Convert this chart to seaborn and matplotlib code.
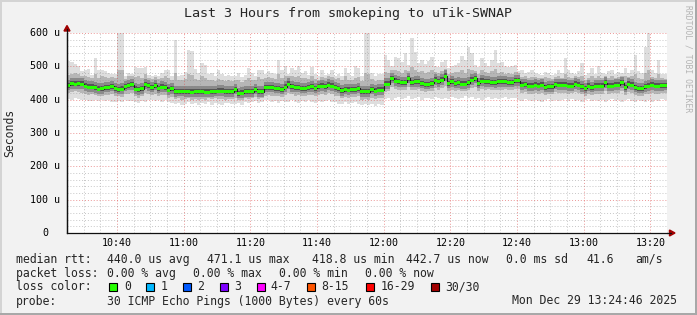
import numpy as np
import pandas as pd
import matplotlib
matplotlib.use("Agg")
import matplotlib.pyplot as plt
import seaborn as sns
from matplotlib.patches import Rectangle, Polygon
from matplotlib.lines import Line2D

# ---------------- data (microseconds, one value per minute from 10:25) ----------------
median_rtt = np.array([
    443, 448, 447, 448, 447, 441, 438, 438, 436, 432,
    433, 437, 437, 440, 434, 431, 432, 440, 443, 445,
    432, 430, 433, 446, 442, 437, 443, 434, 438, 437,
    429, 433, 424, 425, 425, 424, 424, 423, 424, 424,
    424, 423, 423, 424, 425, 426, 426, 424, 424, 424,
    431, 419, 420, 424, 424, 424, 431, 424, 424, 437,
    437, 437, 434, 434, 431, 438, 447, 439, 437, 437,
    434, 434, 437, 439, 434, 439, 441, 439, 444, 441,
    437, 434, 427, 431, 429, 431, 431, 434, 424, 424,
    424, 431, 426, 429, 429, 447, 447, 464, 456, 454,
    452, 452, 464, 452, 454, 454, 449, 446, 446, 449,
    459, 454, 459, 471, 449, 454, 449, 451, 447, 447,
    451, 459, 464, 449, 456, 454, 454, 452, 451, 454,
    454, 454, 452, 452, 457, 457, 444, 446, 441, 441,
    444, 441, 444, 437, 439, 439, 446, 444, 444, 444,
    441, 441, 447, 444, 439, 434, 441, 437, 441, 441,
    441, 451, 441, 441, 444, 444, 451, 437, 447, 444,
    437, 434, 434, 439, 441, 444, 441, 441, 442, 443])

ping_max = np.array([
    515, 512, 508, 500, 485, 490, 492, 475, 525, 488,
    490, 485, 480, 478, 478, 600, 600, 470, 480, 478,
    498, 494, 494, 499, 474, 470, 475, 470, 480, 490,
    488, 470, 580, 470, 475, 482, 550, 545, 492, 480,
    510, 505, 478, 480, 470, 488, 478, 470, 475, 470,
    472, 480, 468, 475, 495, 480, 470, 490, 488, 478,
    485, 480, 478, 520, 488, 500, 478, 495, 490, 500,
    480, 486, 475, 498, 478, 470, 490, 475, 478, 488,
    472, 478, 470, 494, 480, 470, 500, 496, 470, 600,
    600, 480, 470, 478, 476, 534, 520, 500, 529, 525,
    514, 540, 505, 584, 544, 510, 520, 508, 515, 528,
    502, 498, 512, 520, 495, 500, 504, 510, 530, 518,
    559, 540, 505, 498, 525, 510, 500, 520, 549, 510,
    512, 500, 498, 500, 505, 485, 488, 480, 482, 488,
    480, 478, 475, 482, 480, 475, 478, 488, 480, 524,
    490, 480, 478, 485, 510, 475, 480, 495, 478, 500,
    480, 478, 485, 490, 478, 482, 480, 495, 480, 490,
    534, 485, 480, 559, 599, 490, 480, 519, 478, 476])

ping_hi = np.array([
    475, 478, 480, 476, 472, 470, 468, 465, 478, 466,
    470, 468, 466, 468, 465, 490, 488, 462, 470, 472,
    468, 470, 466, 478, 465, 462, 468, 462, 466, 470,
    465, 460, 480, 458, 460, 462, 478, 474, 462, 458,
    470, 466, 458, 460, 455, 462, 458, 455, 458, 455,
    460, 458, 452, 458, 466, 458, 460, 468, 462, 466,
    468, 466, 462, 476, 466, 470, 472, 470, 468, 472,
    464, 466, 462, 472, 462, 460, 468, 464, 470, 468,
    462, 464, 458, 470, 460, 458, 466, 468, 455, 480,
    478, 462, 455, 460, 458, 482, 480, 490, 488, 485,
    480, 488, 485, 498, 490, 482, 486, 480, 482, 488,
    484, 480, 486, 492, 476, 480, 482, 484, 488, 480,
    492, 488, 486, 478, 488, 482, 480, 486, 492, 480,
    482, 478, 480, 478, 482, 480, 468, 470, 466, 468,
    468, 466, 464, 468, 466, 462, 468, 470, 466, 476,
    468, 464, 470, 468, 472, 460, 466, 470, 464, 470,
    466, 472, 466, 470, 464, 468, 472, 470, 468, 470,
    478, 464, 462, 480, 488, 468, 464, 476, 464, 462])

ping_lo = np.array([
    420, 424, 425, 422, 420, 418, 415, 416, 414, 410,
    412, 414, 415, 416, 410, 410, 409, 416, 418, 420,
    410, 406, 410, 420, 418, 414, 418, 410, 414, 415,
    405, 408, 402, 404, 400, 402, 404, 400, 403, 400,
    402, 400, 404, 402, 404, 403, 401, 400, 403, 402,
    406, 398, 400, 404, 402, 405, 408, 403, 404, 412,
    414, 412, 410, 410, 408, 414, 420, 416, 412, 413,
    410, 412, 414, 415, 410, 415, 418, 414, 420, 416,
    412, 410, 404, 408, 405, 407, 408, 410, 400, 402,
    400, 406, 402, 405, 404, 424, 426, 438, 432, 430,
    428, 430, 438, 428, 430, 432, 426, 424, 425, 426,
    434, 430, 434, 442, 426, 430, 426, 428, 425, 426,
    428, 434, 438, 426, 432, 430, 432, 428, 428, 430,
    430, 432, 428, 430, 432, 432, 420, 422, 418, 418,
    420, 418, 420, 414, 416, 416, 422, 420, 420, 421,
    418, 419, 424, 420, 416, 412, 418, 414, 418, 418,
    418, 426, 418, 419, 420, 421, 426, 414, 424, 420,
    414, 412, 412, 416, 418, 420, 418, 418, 419, 420])

ping_min = np.array([
    402, 400, 404, 401, 398, 400, 397, 396, 400, 395,
    398, 396, 399, 394, 392, 396, 393, 398, 395, 397,
    392, 390, 396, 394, 399, 400, 396, 398, 394, 399,
    393, 389, 386, 390, 384, 388, 392, 386, 389, 384,
    390, 388, 392, 385, 390, 387, 384, 389, 391, 388,
    386, 390, 385, 392, 389, 394, 396, 390, 394, 398,
    398, 393, 396, 390, 397, 394, 392, 398, 394, 391,
    396, 393, 398, 394, 390, 396, 392, 396, 398, 393,
    392, 388, 386, 392, 388, 390, 394, 387, 383, 388,
    384, 386, 380, 388, 385, 402, 406, 400, 404, 408,
    403, 406, 410, 402, 405, 408, 400, 404, 406, 402,
    409, 405, 401, 406, 403, 408, 404, 402, 406, 410,
    404, 408, 402, 406, 400, 404, 408, 403, 406, 401,
    405, 409, 403, 406, 404, 400, 396, 402, 398, 395,
    400, 397, 392, 398, 401, 396, 400, 395, 398, 402,
    397, 401, 396, 399, 394, 398, 402, 397, 400, 395,
    398, 394, 399, 402, 396, 400, 394, 398, 401, 396,
    393, 399, 396, 392, 398, 394, 400, 397, 402, 399])

x_tick_minutes = [15, 35, 55, 75, 95, 115, 135, 155, 175]
x_tick_labels = ["10:40", "11:00", "11:20", "11:40", "12:00", "12:20", "12:40", "13:00", "13:20"]
y_tick_values = [0, 100, 200, 300, 400, 500, 600]
y_tick_labels = ["0", "100 u", "200 u", "300 u", "400 u", "500 u", "600 u"]

title = "Last 3 Hours from smokeping to uTik-SWNAP"
rtt_stats = ["440.0 us avg", "471.1 us max", "418.8 us min", "442.7 us now", "0.0 ms sd", "41.6", "am/s"]
loss_stats = ["0.00 % avg", "0.00 % max", "0.00 % min", "0.00 % now"]
loss_labels = ["0", "1", "2", "3", "4-7", "8-15", "16-29", "30/30"]
loss_colors = ["#26ff00", "#00b8ff", "#0059ff", "#7e00ff", "#ff00ff", "#ff5500", "#ff0000", "#a10000"]
probe_text = "30 ICMP Echo Pings (1000 Bytes) every 60s"
stamp_text = "Mon Dec 29 13:24:46 2025"

# ---------------- drawing ----------------
sns.set_style("white")
plt.rcParams["font.family"] = ["DejaVu Sans Mono"]

W, H = 697, 315
fig = plt.figure(figsize=(W / 100, H / 100), dpi=100, facecolor="#f2f2f2")


def fx(px):
    return px / W


def fy(py):
    return 1 - py / H


ax = fig.add_axes([fx(67), fy(233), 600 / W, 200 / H])
ax.set_facecolor("white")

edges = np.arange(len(median_rtt) + 1)


def ext(a):
    return np.append(a, a[-1])


ax.fill_between(edges, ext(ping_min), ext(ping_max), step="post", color="#dedede", lw=0, zorder=1)
ax.fill_between(edges, ext(ping_lo), ext(ping_hi), step="post", color="#b6b6b6", lw=0, zorder=1.1)
ax.fill_between(edges, ext(median_rtt) - 15, ext(median_rtt) + 17, step="post", color="#8a8a8a", lw=0, zorder=1.2)
ax.fill_between(edges, ext(median_rtt) - 7, ext(median_rtt) + 8, step="post", color="#555555", lw=0, zorder=1.3)

df = pd.DataFrame({"minute": edges, "rtt": ext(median_rtt)})
sns.lineplot(data=df, x="minute", y="rtt", drawstyle="steps-post", color="#202020",
             lw=0.8, ax=ax, zorder=3)
ax.fill_between(edges, ext(median_rtt) - 4.5, ext(median_rtt) + 4.5, step="post",
                color=loss_colors[0], lw=0, zorder=4)

ax.set_xlim(0, 180)
ax.set_ylim(0, 600)
ax.set_xlabel("")
ax.set_ylabel("")

ax.set_xticks(x_tick_minutes)
ax.set_xticks(np.arange(0, 181, 5), minor=True)
ax.set_yticks(y_tick_values)
ax.set_yticks(np.arange(0, 601, 20), minor=True)
ax.set_axisbelow("line")
ax.grid(which="minor", color="#8f8f8f", alpha=0.5, linestyle=(0, (1, 2)), lw=0.7)
ax.grid(which="major", color="#de5050", alpha=0.6, linestyle=(0, (1, 2)), lw=0.7)
ax.tick_params(which="both", labelbottom=False, labelleft=False, length=0)
ax.tick_params(axis="y", which="major", length=3, width=0.8, color="#101010", direction="out")

for s in ["top", "right"]:
    ax.spines[s].set_visible(False)
for s in ["left", "bottom"]:
    ax.spines[s].set_color("#101010")
    ax.spines[s].set_linewidth(0.9)
    ax.spines[s].set_zorder(5)

axis_font = dict(family="DejaVu Sans Mono", size=7.2, color="black")
for v, lab in zip(y_tick_values, y_tick_labels):
    xr = 60 if lab != "0" else 48
    ax.text((xr - 67) / 600, v, lab, transform=ax.get_yaxis_transform(), ha="right",
            va="center", **axis_font)
for m, lab in zip(x_tick_minutes, x_tick_labels):
    ax.text(m, -0.05, lab, transform=ax.get_xaxis_transform(), ha="center",
            va="center", **axis_font)

# axis extensions and arrows
arrow_col = "#a00000"
fig.add_artist(Line2D([fx(67), fx(67)], [fy(233), fy(29)], color="#101010", lw=0.9))
fig.add_artist(Line2D([fx(667), fx(671)], [fy(233), fy(233)], color="#101010", lw=0.9))
fig.add_artist(Polygon([[fx(67), fy(25.5)], [fx(64), fy(31)], [fx(70), fy(31)]],
                       closed=True, color=arrow_col, transform=fig.transFigure))
fig.add_artist(Polygon([[fx(675), fy(233)], [fx(669.5), fy(230)], [fx(669.5), fy(236)]],
                       closed=True, color=arrow_col, transform=fig.transFigure))

# title, unit label, watermark
fig.text(fx(348.5), fy(13), title, ha="center", va="center", size=9.6, family="DejaVu Sans Mono")
fig.text(fx(10), fy(133), "Seconds", rotation=90, ha="center", va="center", size=8.3,
         family="DejaVu Sans Mono")
fig.text(fx(688), fy(5), "RRDTOOL / TOBI OETIKER", rotation=270, ha="center", va="top",
         size=5.8, color="#b4b4b4", family="DejaVu Sans Mono")

# legend
leg = dict(size=8.3, family="DejaVu Sans Mono", va="center", ha="left")
fig.text(fx(16), fy(259.5), "median rtt:", **leg)
for xp, s in zip([107, 207, 311.5, 406.5, 506.5, 586, 635], rtt_stats):
    fig.text(fx(xp), fy(259.5), s, **leg)
fig.text(fx(16), fy(273.5), "packet loss:", **leg)
for xp, s in zip([107, 193, 279, 365], loss_stats):
    fig.text(fx(xp), fy(273.5), s, **leg)
fig.text(fx(16), fy(287), "loss color:", **leg)
box_x = [108.5, 145.5, 182.5, 219.5, 256.5, 306.5, 365.5, 430.5]
lab_x = [124, 160.5, 197, 234, 270.5, 321.5, 380.5, 445.5]
for bx, lx, lab, col in zip(box_x, lab_x, loss_labels, loss_colors):
    fig.add_artist(Rectangle((fx(bx), fy(291)), 8 / W, 8 / H, facecolor=col, edgecolor="black",
                             lw=0.8, transform=fig.transFigure))
    fig.text(fx(lx), fy(287), lab, **leg)
fig.text(fx(16), fy(301), "probe:", **leg)
fig.text(fx(107), fy(301), probe_text, **leg)
fig.text(fx(512.5), fy(301), stamp_text, **leg)

# frame shading
fig.add_artist(Rectangle((0, fy(2)), 1, 2 / H, color="#d4d4d4", transform=fig.transFigure, lw=0))
fig.add_artist(Rectangle((0, 0), 2 / W, 1, color="#d4d4d4", transform=fig.transFigure, lw=0))
fig.add_artist(Rectangle((0, 0), 1, 2 / H, color="#a8a8a8", transform=fig.transFigure, lw=0))
fig.add_artist(Rectangle((fx(695), 0), 2 / W, 1, color="#a8a8a8", transform=fig.transFigure, lw=0))

fig.savefig("out.png", dpi=100, facecolor=fig.get_facecolor())
